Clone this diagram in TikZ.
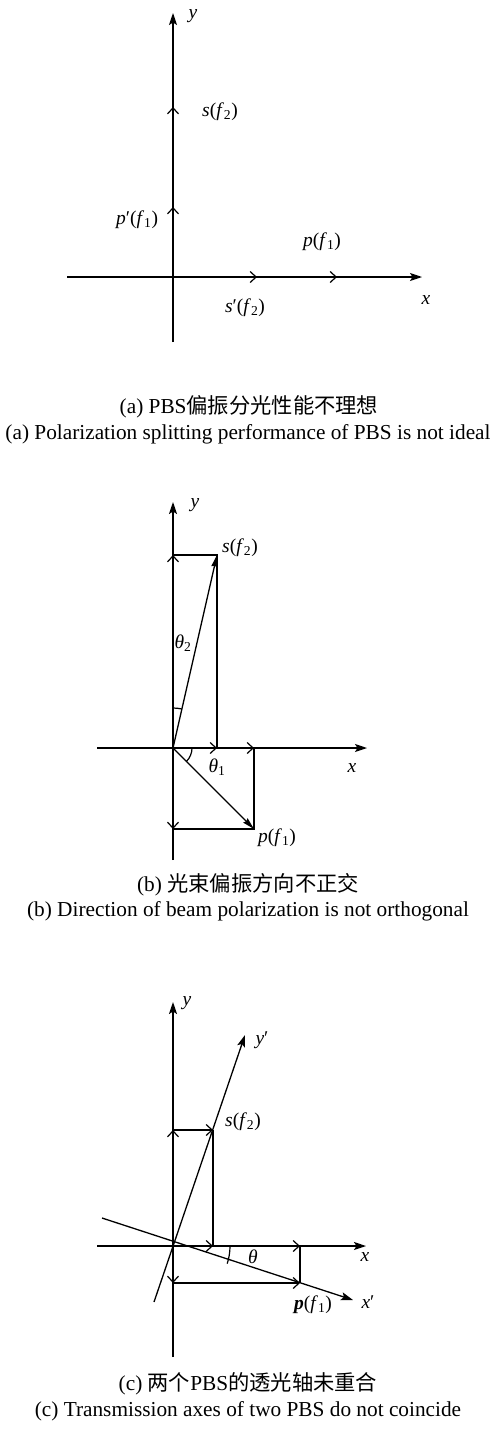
\documentclass[tikz,border=0pt]{standalone}
\usepackage{fontspec}
\setmainfont{Liberation Serif}
\newfontfamily\cjk{Noto Sans CJK SC}
\usetikzlibrary{arrows.meta}
\begin{document}
\begin{tikzpicture}[x=1pt,y=-1pt,
  axis/.style={line width=1.3pt,-{Stealth[length=12pt,width=8pt,inset=2.5pt]}},
  chev/.style={line width=1.2pt,-{Straight Barb[length=6pt,width=11pt]}},
  ln/.style={line width=1.2pt},
  vec/.style={line width=1.3pt,-{Stealth[length=12pt,width=6pt,inset=1pt]}},
  lab/.style={font=\fontsize{19.5}{22}\selectfont,inner sep=0pt},
  captext/.style={font=\fontsize{21.3}{24}\selectfont,inner sep=0pt}]
\useasboundingbox[fill=white] (0,0) rectangle (495,1432);
% ---------- panel (a)
\coordinate (Oa) at (173,277);
\coordinate (ya0) at (173,342); \coordinate (ya1) at (173,13);
\coordinate (xa0) at (67,277);  \coordinate (xa1) at (422,277);
\draw[axis] (ya0) -- (ya1);
\draw[axis] (xa0) -- (xa1);
\coordinate (sa) at (173,107); \coordinate (ppa) at (173,207);
\coordinate (spa) at (257,277); \coordinate (pa) at (337,277);
\draw[chev] (Oa) -- (sa);
\draw[chev] (Oa) -- (ppa);
\draw[chev] (Oa) -- (spa);
\draw[chev] (Oa) -- (pa);
\node[lab] (lya) at (193,16) {\textit{y}};
\node[lab] (lxa) at (426,300) {\textit{x}};
\node[lab] (lsa) at (220,112) {\textit{s}(\textit{f}\textsubscript{2})};
\node[lab] (lppa) at (137,220) {\textit{p}′(\textit{f}\textsubscript{1})};
\node[lab] (lpa) at (322,242) {\textit{p}(\textit{f}\textsubscript{1})};
\node[lab] (lspa) at (245,308) {\textit{s}′(\textit{f}\textsubscript{2})};
\node[captext] (ca1) at (249,407) {(a) PBS{\cjk 偏振分光性能不理想}};
\node[captext] (ca2) at (248,434) {(a) Polarization splitting performance of PBS is not ideal};
% ---------- panel (b)
\coordinate (Ob) at (173,748);
\coordinate (yb0) at (173,860); \coordinate (yb1) at (173,502);
\coordinate (xb0) at (97,748);  \coordinate (xb1) at (367,748);
\draw[axis] (yb0) -- (yb1);
\draw[axis] (xb0) -- (xb1);
\coordinate (Sb) at (217,555); \coordinate (Pb) at (254,829);
\coordinate (syb) at (173,555); \coordinate (sxb) at (217,748);
\coordinate (pxb) at (254,748); \coordinate (pyb) at (173,829);
\draw[chev] (Ob) -- (syb);
\draw[chev] (Ob) -- (sxb);
\draw[chev] (Ob) -- (pxb);
\draw[chev] (Ob) -- (pyb);
\draw[ln] (syb) -- (Sb) -- (sxb);
\draw[ln] (pxb) -- (Pb) -- (pyb);
\draw[vec] (Ob) -- (Sb);
\draw[vec] (Ob) -- (Pb);
\draw[ln] (Ob) ++(-90:40) arc[start angle=-90,end angle=-77.2,radius=40];
\draw[ln] (Ob) ++(0:19) arc[start angle=0,end angle=45,radius=19];
\node[lab] (lyb) at (195,505) {\textit{y}};
\node[lab] (lxb) at (352,768) {\textit{x}};
\node[lab] (lsb) at (240,548) {\textit{s}(\textit{f}\textsubscript{2})};
\node[lab] (lpb) at (277,838) {\textit{p}(\textit{f}\textsubscript{1})};
\node[lab] (lt2) at (183,643) {\textit{θ}\textsubscript{2}};
\node[lab] (lt1) at (217,767) {\textit{θ}\textsubscript{1}};
\node[captext] (cb1) at (248,885) {(b) {\cjk 光束偏振方向不正交}};
\node[captext] (cb2) at (248,911) {(b) Direction of beam polarization is not orthogonal};
% ---------- panel (c)
\coordinate (Oc) at (173,1246);
\coordinate (yc0) at (173,1357); \coordinate (yc1) at (173,1002);
\coordinate (xc0) at (97,1246);  \coordinate (xc1) at (366,1246);
\coordinate (ypc0) at (154,1302); \coordinate (ypc1) at (245,1035);
\coordinate (xpc0) at (102,1218); \coordinate (xpc1) at (353,1300);
\draw[axis] (yc0) -- (yc1);
\draw[axis] (xc0) -- (xc1);
\draw[axis] (ypc0) -- (ypc1);
\draw[axis] (xpc0) -- (xpc1);
\coordinate (Sc) at (213,1130); \coordinate (Pc) at (300,1283);
\coordinate (syc) at (173,1130); \coordinate (sxc) at (213,1246);
\coordinate (pxc) at (300,1246); \coordinate (pyc) at (173,1283);
\draw[chev] (Oc) -- (syc);
\draw[chev] (Oc) -- (sxc);
\draw[chev] (Oc) -- (pxc);
\draw[chev] (Oc) -- (pyc);
\draw[chev] (syc) -- (Sc);
\draw[ln] (Sc) -- (sxc);
\draw[chev] (pyc) -- (Pc);
\draw[ln] (pxc) -- (Pc);
\draw[ln] (Oc) ++(0:57) arc[start angle=0,end angle=18,radius=57];
\node[lab] (lyc) at (187,1003) {\textit{y}};
\node[lab] (lypc) at (262,1040) {\textit{y}′};
\node[lab] (lxc) at (365,1257) {\textit{x}};
\node[lab] (lxpc) at (368,1302) {\textit{x}′};
\node[lab] (lsc) at (243,1122) {\textit{s}(\textit{f}\textsubscript{2})};
\node[lab] (lpc) at (313,1305) {\textbf{\textit{p}}(\textit{f}\textsubscript{1})};
\node[lab] (lth) at (253,1257) {\textit{θ}};
\node[captext] (cc1) at (248,1384) {(c) {\cjk 两个}PBS{\cjk 的透光轴未重合}};
\node[captext] (cc2) at (248,1411) {(c) Transmission axes of two PBS do not coincide};
\end{tikzpicture}
\end{document}
